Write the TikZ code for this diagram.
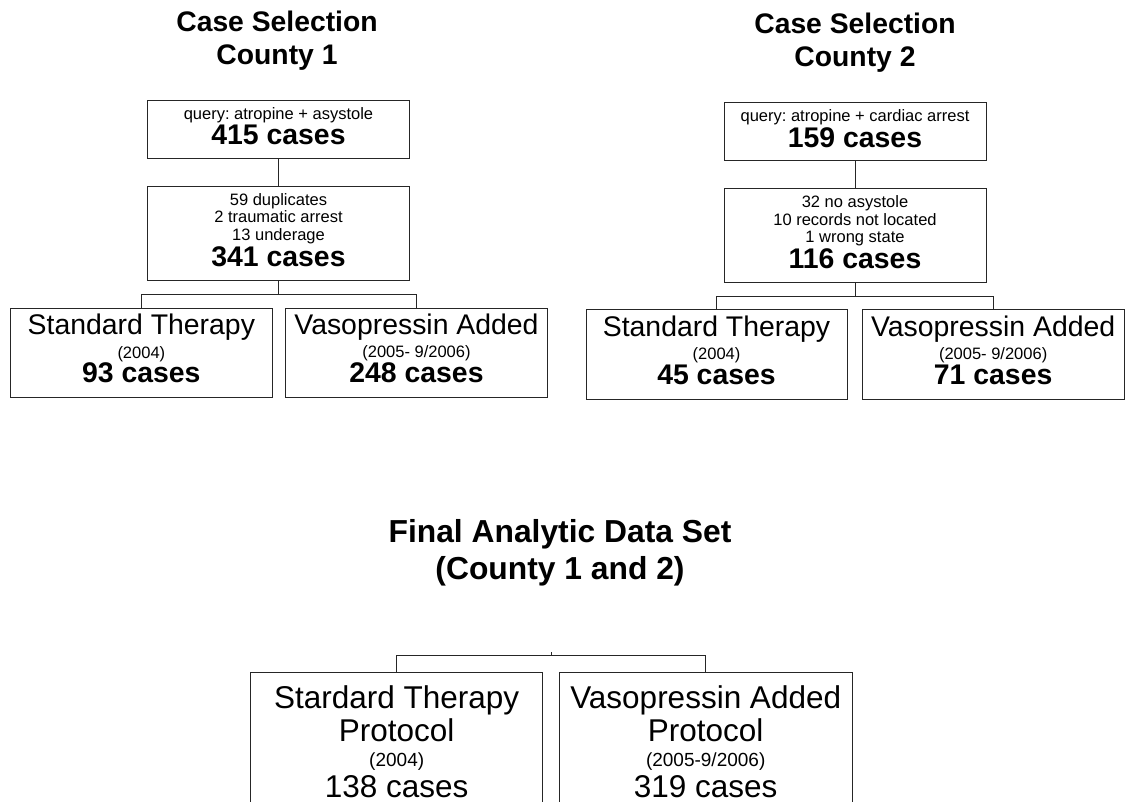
\documentclass[tikz,border=0pt]{standalone}
\usepackage{fontspec}
\setmainfont{Liberation Sans}
\frenchspacing
\newcommand\szTitle{\fontsize{28.3pt}{32pt}\selectfont\bfseries}
\newcommand\szFinalTitle{\fontsize{31.8pt}{36pt}\selectfont\bfseries}
\newcommand\szSmall{\fontsize{16.5pt}{19pt}\selectfont}
\newcommand\szCount{\fontsize{28.4pt}{32pt}\selectfont\bfseries}
\newcommand\szLabel{\fontsize{28.4pt}{32pt}\selectfont}
\newcommand\szFinal{\fontsize{31.5pt}{36pt}\selectfont}
\newcommand\szFinalSmall{\fontsize{19pt}{22pt}\selectfont}
\tikzset{
  boxnode/.style={draw=black!85, line width=1pt, rectangle, inner sep=0pt, fill=none},
  txt/.style={anchor=base, inner sep=0pt, text=black},
  link/.style={draw=black!85, line width=1pt},
}
\begin{document}
\begin{tikzpicture}[x=1pt,y=-1pt]
\useasboundingbox (0,0) rectangle (1125,802);
\clip (0,0) rectangle (1125,802);
\fill[white] (0,0) rectangle (1125,802);

% ---------- County 1 ----------
\node[txt] (t1a) at (277,32) {\szTitle Case Selection};
\node[txt] (t1b) at (277,65) {\szTitle County 1};

\node[boxnode, minimum width=261.6pt, minimum height=58.3pt] (a1) at (278.5,129.85) {};
\node[txt] (a1t1) at (278.5,119.3) {\szSmall query: atropine + asystole};
\node[txt] (a1t2) at (278.5,145) {\szCount 415 cases};

\node[boxnode, minimum width=261.6pt, minimum height=94.3pt] (a2) at (278.5,233.85) {};
\node[txt] (a2t1) at (278.5,205.5) {\szSmall 59 duplicates};
\node[txt] (a2t2) at (278.5,223) {\szSmall 2 traumatic arrest};
\node[txt] (a2t3) at (278.5,240.5) {\szSmall 13 underage};
\node[txt] (a2t4) at (278.5,266.7) {\szCount 341 cases};

\node[boxnode, minimum width=262.7pt, minimum height=88.5pt] (sl1) at (141.35,353) {};
\node[txt] (sl1t1) at (141.35,335) {\szLabel Standard Therapy};
\node[txt] (sl1t2) at (141.35,358.3) {\szSmall (2004)};
\node[txt] (sl1t3) at (141.35,382.8) {\szCount 93 cases};

\node[boxnode, minimum width=261.6pt, minimum height=88.5pt] (vl1) at (416.5,353) {};
\node[txt] (vl1t1) at (416.5,335) {\szLabel Vasopressin Added};
\node[txt] (vl1t2) at (416.5,358) {\szSmall (2005- 9/2006)};
\node[txt] (vl1t3) at (416.5,382.3) {\szCount 248 cases};

\draw[link] (a1.south) -- (a2.north);
\coordinate (j1) at (278.5,295);
\draw[link] (a2.south) -- (j1);
\draw[link] (j1) -| (sl1.north);
\draw[link] (j1) -| (vl1.north);

% ---------- County 2 ----------
\node[txt] (t2a) at (855,33.5) {\szTitle Case Selection};
\node[txt] (t2b) at (855,66.5) {\szTitle County 2};

\node[boxnode, minimum width=262pt, minimum height=58.3pt] (b1) at (855,131.85) {};
\node[txt] (b1t1) at (855,121.5) {\szSmall query: atropine + cardiac arrest};
\node[txt] (b1t2) at (855,147.3) {\szCount 159 cases};

\node[boxnode, minimum width=262pt, minimum height=94.7pt] (b2) at (855,235.65) {};
\node[txt] (b2t1) at (855,207.5) {\szSmall 32 no asystole};
\node[txt] (b2t2) at (855,225.2) {\szSmall 10 records not located};
\node[txt] (b2t3) at (855,242.5) {\szSmall 1 wrong state};
\node[txt] (b2t4) at (855,268.3) {\szCount 116 cases};

\node[boxnode, minimum width=261pt, minimum height=89pt] (sl2) at (716.5,354.5) {};
\node[txt] (sl2t1) at (716.5,336.5) {\szLabel Standard Therapy};
\node[txt] (sl2t2) at (716.5,360) {\szSmall (2004)};
\node[txt] (sl2t3) at (716.5,384.5) {\szCount 45 cases};

\node[boxnode, minimum width=261.7pt, minimum height=89pt] (vl2) at (993.15,354.5) {};
\node[txt] (vl2t1) at (993.15,336.5) {\szLabel Vasopressin Added};
\node[txt] (vl2t2) at (993.15,360) {\szSmall (2005- 9/2006)};
\node[txt] (vl2t3) at (993.15,384.5) {\szCount 71 cases};

\draw[link] (b1.south) -- (b2.north);
\coordinate (j2) at (855,297);
\draw[link] (b2.south) -- (j2);
\draw[link] (j2) -| (sl2.north);
\draw[link] (j2) -| (vl2.north);

% ---------- Final ----------
\node[txt] (tfa) at (560,542.3) {\szFinalTitle Final Analytic Data Set};
\node[txt] (tfb) at (560,579) {\szFinalTitle (County 1 and 2)};

\node[boxnode, minimum width=291.6pt, minimum height=160pt] (slf) at (396.7,752) {};
\node[txt] (slft1) at (396.7,708) {\szFinal Stardard Therapy};
\node[txt] (slft2) at (396.7,741) {\szFinal Protocol};
\node[txt] (slft3) at (396.7,766) {\szFinalSmall (2004)};
\node[txt] (slft4) at (396.7,797) {\szFinal 138 cases};

\node[boxnode, minimum width=293.4pt, minimum height=160pt] (vlf) at (705.7,752) {};
\node[txt] (vlft1) at (705.7,708) {\szFinal Vasopressin Added};
\node[txt] (vlft2) at (705.7,741) {\szFinal Protocol};
\node[txt] (vlft3) at (705.7,766) {\szFinalSmall (2005-9/2006)};
\node[txt] (vlft4) at (705.7,797) {\szFinal 319 cases};

\coordinate (stubf) at (551,652);
\coordinate (jf) at (551,655.5);
\draw[link] (stubf) -- (jf);
\draw[link] (jf) -| (slf.north);
\draw[link] (jf) -| (vlf.north);
\end{tikzpicture}
\end{document}
